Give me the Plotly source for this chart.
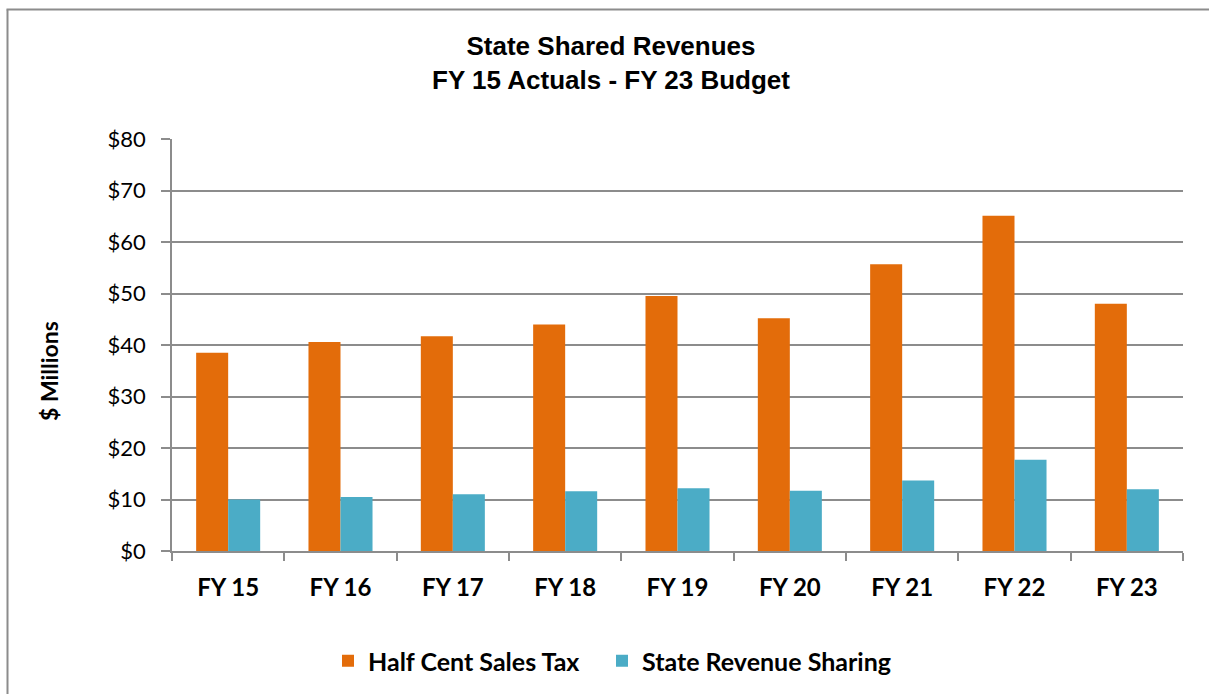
import plotly.graph_objects as go

categories = ["FY 15", "FY 16", "FY 17", "FY 18", "FY 19", "FY 20", "FY 21", "FY 22", "FY 23"]
half_cent_sales_tax = [38.5, 40.6, 41.7, 44.0, 49.5, 45.2, 55.7, 65.1, 48.0]
state_revenue_sharing = [10.0, 10.5, 11.0, 11.6, 12.2, 11.7, 13.7, 17.7, 12.0]
y_ticks = [0, 10, 20, 30, 40, 50, 60, 70, 80]

W, H = 1209, 694
L, R, T, B = 172, 1183, 139, 551

def px_x(p):
    return (p - L) / (R - L)

def px_y(p):
    return (B - p) / (B - T)

fig = go.Figure()
fig.add_trace(go.Bar(name="Half Cent Sales Tax", x=categories, y=half_cent_sales_tax,
                     marker=dict(color="#E36C0A", line=dict(width=0)), legend="legend"))
fig.add_trace(go.Bar(name="State Revenue Sharing", x=categories, y=state_revenue_sharing,
                     marker=dict(color="#4BACC6", line=dict(width=0)), legend="legend2"))

grid = "#8c8c8c"
legend_font = dict(family="Lato", size=25, color="black", weight="bold")
fig.update_layout(
    width=W, height=H,
    margin=dict(l=L, r=W - R, t=T, b=H - B, autoexpand=False),
    paper_bgcolor="white", plot_bgcolor="white",
    barmode="group", bargap=0.43, bargroupgap=0,
    title=dict(text="State Shared Revenues<br>FY 15 Actuals - FY 23 Budget",
               x=611 / W, xref="container", xanchor="center",
               y=1 - 55 / H, yref="container", yanchor="middle",
               font=dict(family="Liberation Sans, Arial", size=26, color="black", weight="bold")),
    legend=dict(orientation="h", x=328 / W, xanchor="left", xref="container",
                y=1 - 661 / H, yanchor="middle", yref="container",
                font=legend_font, itemwidth=30),
    legend2=dict(orientation="h", x=602 / W, xanchor="left", xref="container",
                 y=1 - 661 / H, yanchor="middle", yref="container",
                 font=legend_font, itemwidth=30),
    showlegend=True,
)
fig.update_xaxes(
    type="category", showline=True, linecolor=grid, linewidth=1.5,
    ticks="outside", tickson="boundaries", ticklen=8, tickcolor=grid, tickwidth=1.5,
    tickfont=dict(family="Lato", size=24, color="black", weight="bold"),
    ticklabelstandoff=14, showgrid=False,
)
fig.update_yaxes(
    range=[0, 80], tickvals=y_ticks, ticktext=[f"${v}" for v in y_ticks],
    showline=True, linecolor=grid, linewidth=1.5,
    ticks="outside", ticklen=9, tickcolor=grid, tickwidth=1.5,
    showgrid=True, gridcolor=grid, gridwidth=1.5,
    tickfont=dict(family="Lato", size=22, color="black"),
    ticklabelstandoff=11, zeroline=False,
)
fig.add_annotation(text="$ Millions", textangle=-90, xref="paper", yref="paper",
                   x=px_x(49), y=px_y(371), xanchor="center", yanchor="middle", showarrow=False,
                   font=dict(family="Lato", size=23, color="black", weight="bold"))
# chart-area border (left and top edges visible in the reference)
fig.add_shape(type="line", xref="paper", yref="paper",
              x0=px_x(7.5), x1=px_x(7.5), y0=px_y(H + 5), y1=px_y(9.5),
              line=dict(color="#8c8c8c", width=2), layer="below")
fig.add_shape(type="line", xref="paper", yref="paper",
              x0=px_x(6.5), x1=px_x(W + 5), y0=px_y(9.5), y1=px_y(9.5),
              line=dict(color="#8c8c8c", width=2), layer="below")

fig.write_html("out.html", config={"displayModeBar": False},
               post_script="document.body.style.margin='0';document.body.style.overflow='hidden';")
